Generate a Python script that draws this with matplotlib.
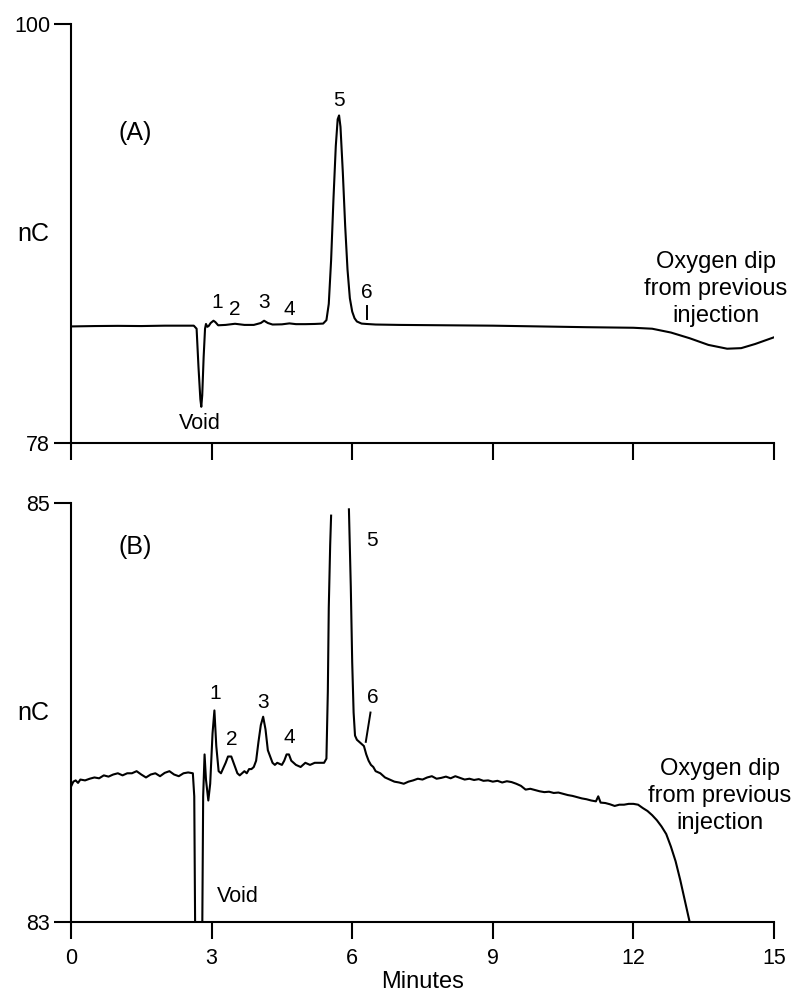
import numpy as np
import matplotlib
matplotlib.use('Agg')
import matplotlib.pyplot as plt

plt.rcParams['font.family'] = ['Liberation Sans', 'DejaVu Sans']

# trace (A), minutes / nC
t_a = [0.0, 0.5, 1.0, 1.5, 2.0, 2.5, 2.62, 2.68, 2.72, 2.76, 2.78, 2.80, 2.83, 2.86,
       2.88, 2.91, 2.94, 2.98, 3.04, 3.08, 3.14, 3.3, 3.5, 3.7, 3.9, 4.05, 4.12, 4.2,
       4.3, 4.5, 4.66, 4.8, 5.0, 5.2, 5.38, 5.45, 5.5, 5.55, 5.6, 5.65, 5.69, 5.72,
       5.75, 5.8, 5.85, 5.9, 5.95, 6.0, 6.05, 6.1, 6.2, 6.3, 6.5, 7.0, 8.0, 9.0,
       10.0, 11.0, 12.0, 12.4, 12.8, 13.2, 13.6, 14.0, 14.3, 14.6, 15.0]
nc_a = [84.12, 84.14, 84.15, 84.14, 84.16, 84.16, 84.16, 84.0, 82.0, 80.3, 79.9, 80.5,
        82.5, 84.0, 84.25, 84.1, 84.15, 84.3, 84.42, 84.35, 84.18, 84.2, 84.26, 84.2,
        84.2, 84.3, 84.42, 84.3, 84.22, 84.23, 84.28, 84.24, 84.24, 84.25, 84.27, 84.45,
        85.3, 87.6, 90.8, 93.6, 95.0, 95.2, 94.6, 92.2, 89.4, 87.1, 85.6, 84.9, 84.55,
        84.38, 84.27, 84.25, 84.22, 84.2, 84.18, 84.16, 84.12, 84.08, 84.05, 84.0,
        83.8, 83.5, 83.15, 82.95, 82.98, 83.2, 83.55]

# trace (B), the top of peak 5 is off scale (gap)
t_b = [0.0, 0.05, 0.1, 0.15, 0.2, 0.3, 0.4, 0.5, 0.6, 0.7, 0.8, 0.9, 1.0, 1.1, 1.2,
       1.3, 1.4, 1.5, 1.6, 1.7, 1.8, 1.9, 2.0, 2.1, 2.2, 2.3, 2.4, 2.5, 2.6, 2.63,
       2.66, 2.79, 2.82, 2.85, 2.88, 2.93, 2.97, 3.02, 3.06, 3.1, 3.15, 3.2, 3.3,
       3.35, 3.42, 3.5, 3.55, 3.6, 3.7, 3.75, 3.8, 3.85, 3.9, 3.95, 4.0, 4.05, 4.1,
       4.15, 4.2, 4.3, 4.35, 4.4, 4.5, 4.55, 4.6, 4.65, 4.7, 4.8, 4.9, 5.0, 5.1, 5.2,
       5.3, 5.4, 5.45, 5.48, 5.5, 5.53, 5.55, 5.7, 5.93, 5.97, 6.0, 6.03, 6.06, 6.1,
       6.15, 6.2, 6.25, 6.3, 6.35, 6.4, 6.45, 6.5, 6.6, 6.7, 6.8, 6.9, 7.0, 7.1, 7.2,
       7.3, 7.4, 7.5, 7.6, 7.7, 7.8, 7.9, 8.0, 8.1, 8.2, 8.3, 8.4, 8.5, 8.6, 8.7,
       8.8, 8.9, 9.0, 9.1, 9.2, 9.3, 9.4, 9.5, 9.6, 9.7, 9.8, 9.9, 10.0, 10.1, 10.2,
       10.3, 10.4, 10.5, 10.6, 10.7, 10.8, 10.9, 11.0, 11.1, 11.2, 11.25, 11.3, 11.4,
       11.5, 11.6, 11.7, 11.8, 11.9, 12.0, 12.1, 12.2, 12.3, 12.4, 12.5, 12.6, 12.7,
       12.8, 12.9, 13.0, 13.1, 13.2, 13.25]
frac_b = [0.323, 0.335, 0.338, 0.332, 0.340, 0.338, 0.342, 0.345, 0.343, 0.350, 0.347,
          0.352, 0.355, 0.350, 0.355, 0.355, 0.360, 0.352, 0.345, 0.352, 0.355, 0.348,
          0.356, 0.360, 0.352, 0.348, 0.355, 0.357, 0.355, 0.30, -0.2, -0.2, 0.30, 0.40,
          0.34, 0.29, 0.33, 0.45, 0.505, 0.42, 0.36, 0.355, 0.38, 0.395, 0.395, 0.37,
          0.355, 0.35, 0.36, 0.355, 0.365, 0.365, 0.37, 0.385, 0.43, 0.47, 0.49, 0.46,
          0.41, 0.38, 0.375, 0.38, 0.375, 0.385, 0.40, 0.40, 0.385, 0.375, 0.37, 0.38,
          0.375, 0.38, 0.38, 0.38, 0.39, 0.55, 0.75, 0.90, 0.97, np.nan, 0.985, 0.80,
          0.62, 0.50, 0.445, 0.435, 0.43, 0.425, 0.42, 0.40, 0.385, 0.375, 0.37, 0.36,
          0.355, 0.345, 0.34, 0.335, 0.333, 0.33, 0.335, 0.338, 0.342, 0.34, 0.345,
          0.348, 0.342, 0.344, 0.347, 0.343, 0.348, 0.344, 0.34, 0.342, 0.339, 0.341,
          0.337, 0.338, 0.335, 0.337, 0.333, 0.336, 0.334, 0.33, 0.325, 0.316, 0.318,
          0.315, 0.312, 0.31, 0.311, 0.308, 0.309, 0.306, 0.303, 0.301, 0.298, 0.295,
          0.293, 0.29, 0.288, 0.30, 0.285, 0.284, 0.281, 0.277, 0.28, 0.28, 0.282,
          0.282, 0.28, 0.272, 0.265, 0.255, 0.243, 0.228, 0.21, 0.18, 0.145, 0.10,
          0.05, 0.0, -0.03]
nc_b = 83 + 2 * np.array(frac_b)

x_ticks = [0, 3, 6, 9, 12, 15]

peaks_a = [('1', 3.11, 85.36), ('2', 3.5, 85.0), ('3', 4.13, 85.36),
           ('4', 4.66, 85.0), ('5', 5.71, 96.0), ('6', 6.31, 85.9)]
peaks_b = [('1', 3.07, 84.09), ('2', 3.44, 83.87), ('3', 4.1, 84.05),
           ('4', 4.66, 83.88), ('5', 6.43, 84.82), ('6', 6.43, 84.07)]

oxy_text = 'Oxygen dip\nfrom previous\ninjection'

fig = plt.figure(figsize=(7.95, 9.93), dpi=100)
ax_a = fig.add_axes([0.0893, 0.5539, 0.8843, 0.4219])
ax_b = fig.add_axes([0.0893, 0.0715, 0.8843, 0.4219])


def style_axis(ax, ymin, ymax):
    ax.set_xlim(0, 15)
    ax.set_ylim(ymin, ymax)
    ax.spines['top'].set_visible(False)
    ax.spines['right'].set_visible(False)
    ax.spines['left'].set_linewidth(1.5)
    ax.spines['bottom'].set_linewidth(1.5)
    ax.set_xticks(x_ticks)
    ax.set_yticks([ymin, ymax])
    ax.tick_params(direction='out', length=12, width=1.5, labelsize=15.5, pad=3)
    ax.tick_params(axis='x', pad=7)
    ax.set_ylabel('nC', rotation=0, fontsize=18, va='center', ha='center')
    ax.yaxis.set_label_coords(-0.053, 0.5)


# (A)
ax_a.plot(t_a, nc_a, color='black', lw=1.5)
style_axis(ax_a, 78, 100)
ax_a.set_xticklabels([])
ax_a.text(1.38, 94.3, '(A)', fontsize=18, ha='center', va='center')
for lab, x, y in peaks_a:
    ax_a.text(x, y, lab, fontsize=15, ha='center', va='center')
ax_a.plot([6.31, 6.31], [84.49, 85.19], color='black', lw=1.4)
ax_a.text(2.74, 79.0, 'Void', fontsize=15.5, ha='center', va='center')
ax_a.text(13.76, 86.1, oxy_text, fontsize=17, ha='center', va='center', linespacing=1.3)

# (B)
ax_b.plot(t_b, nc_b, color='black', lw=1.5)
style_axis(ax_b, 83, 85)
ax_b.text(1.38, 84.79, '(B)', fontsize=18, ha='center', va='center')
for lab, x, y in peaks_b:
    ax_b.text(x, y, lab, fontsize=15, ha='center', va='center')
ax_b.plot([6.39, 6.29], [84.0, 83.86], color='black', lw=1.4)
ax_b.text(3.57, 83.12, 'Void', fontsize=15.5, ha='center', va='center')
ax_b.text(13.85, 83.6, oxy_text, fontsize=17, ha='center', va='center',
          linespacing=1.3, clip_on=False)
ax_b.set_xlabel('Minutes', fontsize=17, labelpad=1)

fig.savefig('out.png', dpi=100)
